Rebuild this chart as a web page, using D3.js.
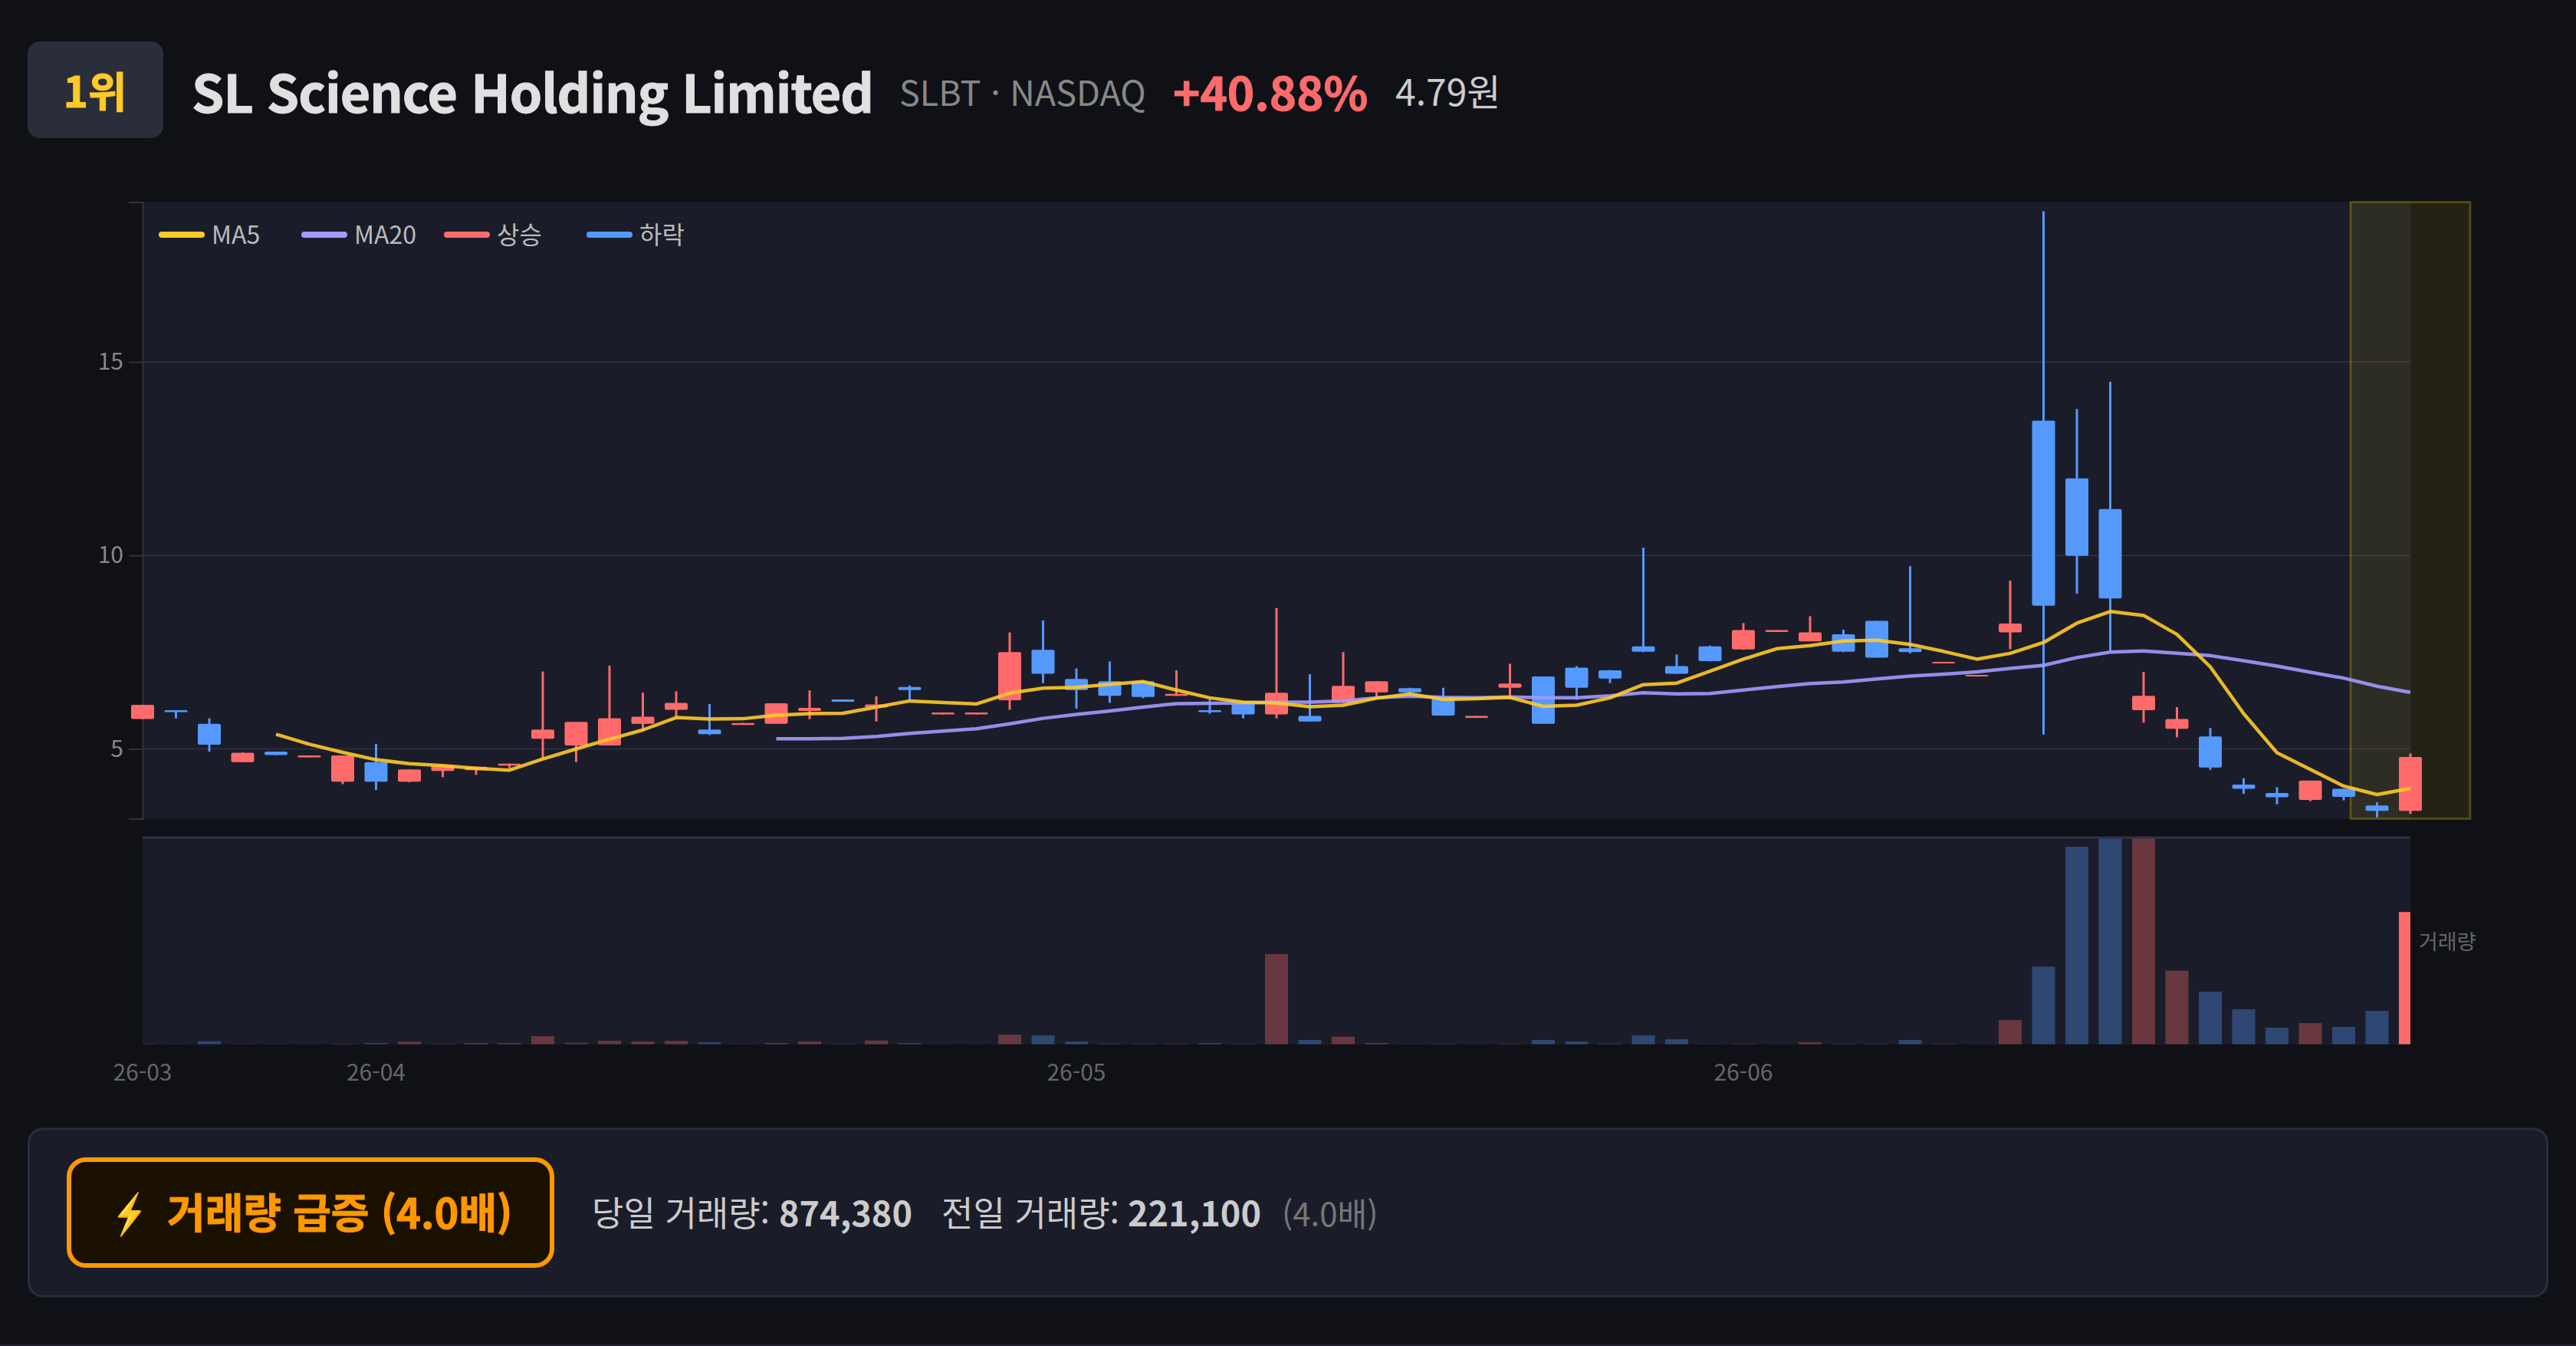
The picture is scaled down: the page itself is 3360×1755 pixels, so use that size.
<!DOCTYPE html>
<html lang="ko">
<head>
<meta charset="utf-8">
<title>SLBT</title>
<script src="https://cdn.jsdelivr.net/npm/d3@7"></script>
<style>
  html, body { margin: 0; padding: 0; background: #0f1117; }
  svg { display: block; }
  text { font-family: "Noto Sans CJK KR", "Noto Sans", sans-serif; }
</style>
</head>
<body>
<div id="chart"></div>
<script>
// Données
const opens = [5.77,6.00,5.65,4.66,4.93,4.78,4.15,4.66,4.15,4.43,
  4.45,4.57,5.26,5.09,5.09,5.65,6.01,5.50,5.62,5.65,
  5.98,6.28,6.07,6.60,5.89,5.89,6.26,7.56,6.81,6.75,
  6.75,6.37,6.00,6.19,5.89,5.85,6.19,6.46,6.57,6.35,
  5.80,6.58,6.87,7.10,7.03,7.65,7.14,7.65,7.57,8.02,
  7.78,7.96,8.31,7.60,7.21,6.87,8.01,13.48,11.99,11.20,
  6.00,5.52,5.32,4.08,3.86,3.68,3.97,3.54,3.40];
const closes = [6.14,5.95,5.11,4.90,4.84,4.83,4.83,4.15,4.47,4.57,
  4.54,4.62,5.50,5.70,5.79,5.83,6.19,5.38,5.67,6.18,
  6.06,6.22,6.15,6.52,5.94,5.94,7.50,6.94,6.52,6.37,
  6.34,6.42,5.95,5.89,6.45,5.71,6.63,6.75,6.46,5.86,
  5.85,6.69,5.65,6.58,6.82,7.51,6.94,7.27,8.07,8.07,
  8.01,7.51,7.36,7.50,7.25,6.91,8.24,8.70,9.99,8.89,
  6.37,5.77,4.52,3.97,3.75,4.18,3.76,3.40,4.79];
const highs = [6.14,6.00,5.79,4.91,4.93,4.83,4.83,5.13,4.47,4.57,
  4.54,4.62,7.00,5.70,7.15,6.45,6.49,6.16,5.67,6.18,
  6.51,6.28,6.36,6.64,5.94,5.94,8.01,8.32,7.08,7.26,
  6.76,7.03,6.28,6.20,8.64,6.93,7.50,6.75,6.58,6.58,
  5.85,7.20,6.87,7.14,7.04,10.20,7.44,7.67,8.25,8.07,
  8.43,8.08,8.31,9.72,7.25,6.91,9.35,18.89,13.78,14.49,
  6.99,6.08,5.54,4.24,4.01,4.18,3.97,3.62,4.88];
const lows = [5.77,5.79,4.93,4.66,4.84,4.78,4.09,3.94,4.14,4.27,
  4.33,4.50,4.77,4.66,5.09,5.45,5.83,5.36,5.62,5.65,
  5.77,6.22,5.71,6.26,5.89,5.89,6.01,6.70,6.04,6.19,
  6.31,6.37,5.91,5.79,5.79,5.71,6.19,6.33,6.40,5.86,
  5.80,6.32,5.65,6.27,6.70,7.50,6.94,7.26,7.56,8.02,
  7.78,7.50,7.36,7.47,7.21,6.87,7.58,5.37,9.01,7.54,
  5.68,5.30,4.46,3.84,3.57,3.65,3.67,3.23,3.32];
const ma5 = [null,null,null,null,5.38,5.12,4.91,4.72,4.62,4.57,
  4.50,4.45,4.74,5.00,5.25,5.49,5.81,5.77,5.78,5.87,
  5.91,5.92,6.08,6.24,6.20,6.16,6.44,6.57,6.59,6.67,
  6.74,6.52,6.32,6.21,6.19,6.09,6.13,6.31,6.42,6.28,
  6.30,6.33,6.10,6.13,6.32,6.66,6.70,7.01,7.32,7.59,
  7.67,7.79,7.81,7.70,7.52,7.32,7.47,7.75,8.25,8.55,
  8.45,7.96,7.12,5.91,4.90,4.47,4.04,3.82,3.98];
const ma20 = [null,null,null,null,null,null,null,null,null,null,
  null,null,null,null,null,null,null,null,null,5.26,
  5.26,5.27,5.32,5.40,5.46,5.52,5.65,5.79,5.89,5.98,
  6.08,6.17,6.18,6.19,6.21,6.21,6.24,6.32,6.36,6.33,
  6.32,6.34,6.32,6.32,6.37,6.45,6.42,6.43,6.52,6.61,
  6.69,6.73,6.81,6.88,6.93,6.99,7.08,7.16,7.36,7.50,
  7.53,7.47,7.41,7.28,7.14,6.98,6.83,6.62,6.46];
const volumes = [3400,1700,20000,1700,1700,500,3000,8500,17000,3400,
  8500,8500,54000,10000,23700,18600,22000,13500,1700,8500,
  18600,3400,25000,8500,500,500,64000,59000,18600,5000,
  3400,3400,8500,3400,596000,28700,50700,8500,1700,3400,
  500,3400,28700,18600,5000,59000,33800,1700,3400,500,
  13500,3400,3400,28700,3400,500,160500,513800,1306000,1367000,
  1367000,486700,348000,231500,110000,140000,115000,221100,874380];
const monthLabels = [[0,"26-03"],[7,"26-04"],[28,"26-05"],[48,"26-06"]];
const priceTicks = [5,10,15];
const legendItems = [["MA5","#ffca28"],["MA20","#a29bfe"],["상승","#ff6b6b"],["하락","#5599ff"]];

// Dimensions SVG
const width = 3360;
const height = 1755;
const plot = { left: 186, right: 3144, top: 263.5, bottom: 1067.5 };
const vol = { top: 1092, bottom: 1361.7 };
const upColor = "#ff6b6b";
const downColor = "#5599ff";
const lastIndex = closes.length - 1;

const svg = d3.select("#chart").append("svg")
  .attr("width", width)
  .attr("height", height)
  .attr("viewBox", [0, 0, width, height]);

const x = d3.scaleLinear().domain([0, lastIndex]).range([plot.left, plot.right]);
const y = d3.scaleLinear().domain([3.196, 19.13]).range([plot.bottom, plot.top]);
const yVol = d3.scaleLinear().domain([0, 1367000]).range([vol.bottom, vol.top]);
const bodyWidth = 30;

svg.append("rect").attr("width", width).attr("height", height).attr("fill", "#0f1117");
svg.append("rect").attr("y", 1752).attr("width", width).attr("height", 3).attr("fill", "#1a1d2e");

// En-tête
svg.append("rect").attr("x", 36).attr("y", 54).attr("width", 177).attr("height", 126).attr("rx", 16).attr("fill", "#2a2d3a");
svg.append("text").attr("x", 124).attr("y", 140).attr("text-anchor", "middle")
  .attr("font-size", 55).attr("font-weight", 700).attr("fill", "#ffca28")
  .attr("stroke", "#ffca28").attr("stroke-width", 1).text("1위");
svg.append("text").attr("x", 250).attr("y", 147).attr("letter-spacing", -1)
  .attr("font-size", 68).attr("font-weight", 700).attr("fill", "#e0e0e0")
  .attr("stroke", "#e0e0e0").attr("stroke-width", 1).text("SL Science Holding Limited");
svg.append("text").attr("x", 1173).attr("y", 138)
  .attr("font-size", 45).attr("fill", "#888888").text("SLBT · NASDAQ");
svg.append("text").attr("x", 1530).attr("y", 144)
  .attr("font-size", 60).attr("font-weight", 700).attr("fill", upColor)
  .attr("stroke", upColor).attr("stroke-width", 1).text("+40.88%");
svg.append("text").attr("x", 1820).attr("y", 138)
  .attr("font-size", 48).attr("fill", "#cccccc").text("4.79원");

// Fond et grille
svg.append("rect").attr("x", plot.left).attr("y", plot.top)
  .attr("width", plot.right - plot.left).attr("height", plot.bottom - plot.top).attr("fill", "#1a1d29");
svg.append("rect").attr("x", plot.left).attr("y", vol.top)
  .attr("width", plot.right - plot.left).attr("height", vol.bottom - vol.top).attr("fill", "#1a1d29");

svg.append("g").selectAll("line").data(priceTicks).join("line")
  .attr("x1", plot.left).attr("x2", plot.right)
  .attr("y1", d => y(d)).attr("y2", d => y(d))
  .attr("stroke", "#2a2d3a").attr("stroke-width", 2);

const yAxis = svg.append("g")
  .attr("transform", `translate(${plot.left},0)`)
  .call(d3.axisLeft(y).tickValues(priceTicks).tickSize(18).tickPadding(7));
yAxis.selectAll("path, line").attr("stroke", "#333333").attr("stroke-width", 2);
yAxis.selectAll("text").attr("font-size", 30).attr("fill", "#888888")
  .style("font-family", '"Noto Sans CJK KR"');

// Zone surlignée du dernier jour
svg.append("rect")
  .attr("x", x(lastIndex) - 78).attr("y", plot.top)
  .attr("width", 156).attr("height", plot.bottom - plot.top)
  .attr("fill", "#ffd700").attr("fill-opacity", 0.09)
  .attr("stroke", "#ffd700").attr("stroke-opacity", 0.25).attr("stroke-width", 3);

// Chandeliers
const candles = svg.append("g").selectAll("g").data(closes).join("g");
candles.append("line")
  .attr("x1", (d, i) => x(i)).attr("x2", (d, i) => x(i))
  .attr("y1", (d, i) => y(highs[i])).attr("y2", (d, i) => y(lows[i]))
  .attr("stroke", (d, i) => d > opens[i] ? upColor : downColor)
  .attr("stroke-width", 3);
candles.append("rect")
  .attr("x", (d, i) => x(i) - bodyWidth / 2)
  .attr("y", (d, i) => y(Math.max(d, opens[i])))
  .attr("width", bodyWidth)
  .attr("height", (d, i) => Math.abs(y(d) - y(opens[i])))
  .attr("rx", 2)
  .attr("fill", (d, i) => d > opens[i] ? upColor : downColor);

// Moyennes mobiles
const maLine = d3.line().defined(d => d !== null).x((d, i) => x(i)).y(d => y(d));
svg.append("path").attr("d", maLine(ma20)).attr("fill", "none")
  .attr("stroke", "#a29bfe").attr("stroke-width", 4.5).attr("stroke-opacity", 0.9).attr("stroke-linejoin", "round");
svg.append("path").attr("d", maLine(ma5)).attr("fill", "none")
  .attr("stroke", "#ffca28").attr("stroke-width", 4.5).attr("stroke-opacity", 0.9).attr("stroke-linejoin", "round");

// Légende
const legendX = [207, 393, 579, 765];
const legend = svg.append("g").selectAll("g").data(legendItems).join("g")
  .attr("transform", (d, i) => `translate(${legendX[i]},306)`);
legend.append("rect").attr("y", -4).attr("width", 60).attr("height", 8).attr("rx", 4).attr("fill", d => d[1]);
legend.append("text").attr("x", 69).attr("y", 12).attr("font-size", 32).attr("fill", "#bbbbbb").text(d => d[0]);

// Volumes
svg.append("clipPath").attr("id", "vol-clip").append("rect")
  .attr("x", plot.left).attr("y", vol.top)
  .attr("width", plot.right - plot.left).attr("height", vol.bottom - vol.top);
svg.append("g").attr("clip-path", "url(#vol-clip)")
  .selectAll("rect").data(volumes).join("rect")
  .attr("x", (d, i) => x(i) - bodyWidth / 2)
  .attr("y", d => yVol(d))
  .attr("width", bodyWidth)
  .attr("height", d => vol.bottom - yVol(d))
  .attr("fill", (d, i) => closes[i] > opens[i] ? upColor : downColor)
  .attr("fill-opacity", (d, i) => i === lastIndex ? 1 : 0.35);
svg.append("line").attr("x1", plot.left).attr("x2", plot.right)
  .attr("y1", 1092).attr("y2", 1092).attr("stroke", "#2e3148").attr("stroke-width", 3);
svg.append("text").attr("x", 3155).attr("y", 1238).attr("font-size", 27).attr("fill", "#666666").text("거래량");

// Étiquettes des mois
svg.append("g").selectAll("text").data(monthLabels).join("text")
  .attr("x", d => x(d[0])).attr("y", 1409).attr("text-anchor", "middle")
  .attr("font-size", 30).attr("fill", "#666666").text(d => d[1]);

// Bandeau du bas
svg.append("rect").attr("x", 37.5).attr("y", 1472).attr("width", 3285).attr("height", 218)
  .attr("rx", 18).attr("fill", "#1a1d29").attr("stroke", "#2a2d3a").attr("stroke-width", 3);
svg.append("rect").attr("x", 90).attr("y", 1512).attr("width", 630).attr("height", 138)
  .attr("rx", 22).attr("fill", "#1a1000").attr("stroke", "#ff9800").attr("stroke-width", 6);
svg.append("text").attr("transform", "translate(147,1601) scale(0.68,1)").attr("font-size", 52).attr("font-weight", 700)
  .attr("fill", "#fff2a0").attr("stroke", "#ff9800").attr("stroke-width", 3).attr("paint-order", "stroke").text("⚡");
svg.append("text").attr("x", 218).attr("y", 1602).attr("font-size", 54).attr("font-weight", 700)
  .attr("fill", "#ff9800").attr("stroke", "#ff9800").attr("stroke-width", 1).text("거래량 급증 (4.0배)");

const stats = [[772, "당일 거래량:", 400, 45, "#cccccc"], [1016, "874,380", 700, 45, "#cccccc"],
  [1228, "전일 거래량:", 400, 45, "#cccccc"], [1471, "221,100", 700, 45, "#cccccc"], [1672, "(4.0배)", 400, 42, "#777777"]];
svg.append("g").selectAll("text").data(stats).join("text")
  .attr("x", d => d[0]).attr("y", 1599).attr("font-size", d => d[3])
  .attr("font-weight", d => d[2]).attr("fill", d => d[4]).text(d => d[1]);
</script>
</body>
</html>
